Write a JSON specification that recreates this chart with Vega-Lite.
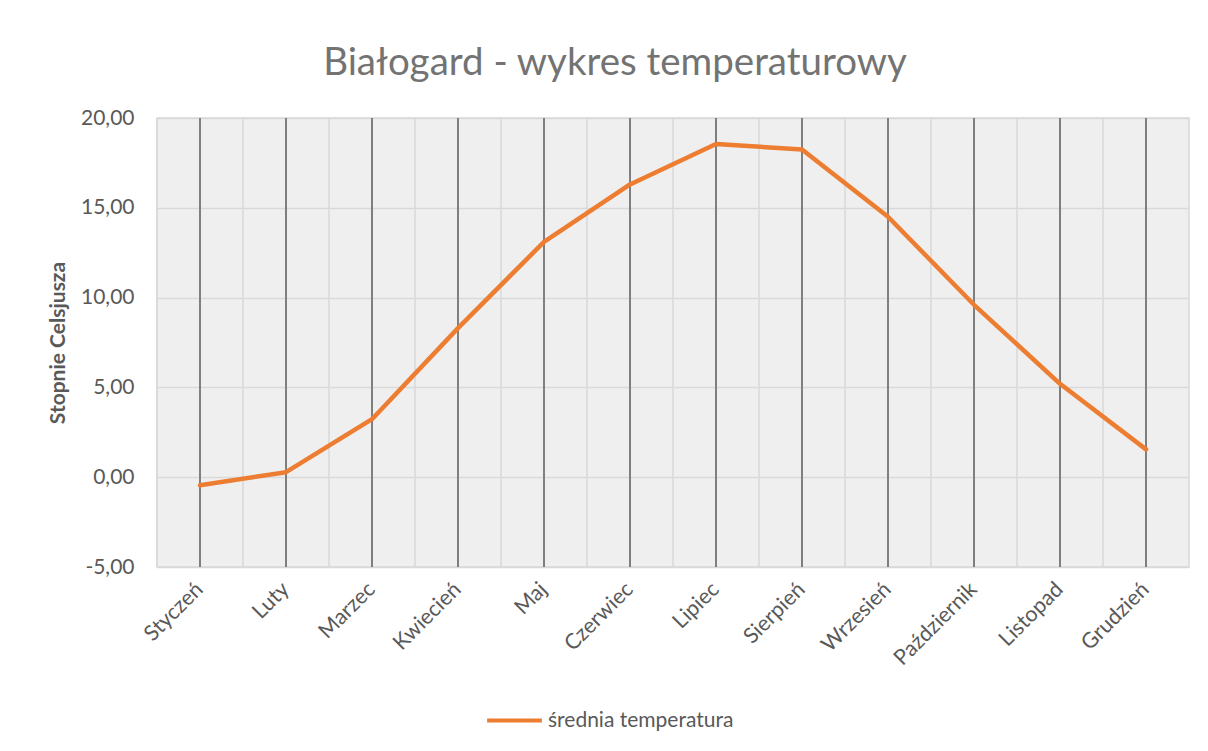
{
  "$schema": "https://vega.github.io/schema/vega-lite/v6.json",
  "width": 1032,
  "height": 449,
  "autosize": {"type": "none"},
  "padding": {"left": 157, "top": 118, "right": 19, "bottom": 184},
  "background": "white",
  "title": {
    "text": "Białogard - wykres temperaturowy",
    "font": "Lato",
    "fontSize": 38.5,
    "fontWeight": "normal",
    "color": "#737373",
    "anchor": "middle",
    "dx": -58,
    "offset": 24
  },
  "config": {
    "font": "Lato",
    "view": {"fill": "#efefef", "stroke": "#d9d9d9", "strokeWidth": 1.5}
  },
  "data": {
    "values": [
      {"miesiac": "Styczeń", "temp": -0.45, "seria": "średnia temperatura"},
      {"miesiac": "Luty", "temp": 0.28, "seria": "średnia temperatura"},
      {"miesiac": "Marzec", "temp": 3.23, "seria": "średnia temperatura"},
      {"miesiac": "Kwiecień", "temp": 8.3, "seria": "średnia temperatura"},
      {"miesiac": "Maj", "temp": 13.1, "seria": "średnia temperatura"},
      {"miesiac": "Czerwiec", "temp": 16.3, "seria": "średnia temperatura"},
      {"miesiac": "Lipiec", "temp": 18.55, "seria": "średnia temperatura"},
      {"miesiac": "Sierpień", "temp": 18.25, "seria": "średnia temperatura"},
      {"miesiac": "Wrzesień", "temp": 14.5, "seria": "średnia temperatura"},
      {"miesiac": "Październik", "temp": 9.6, "seria": "średnia temperatura"},
      {"miesiac": "Listopad", "temp": 5.2, "seria": "średnia temperatura"},
      {"miesiac": "Grudzień", "temp": 1.55, "seria": "średnia temperatura"}
    ]
  },
  "encoding": {
    "x": {
      "field": "miesiac",
      "type": "nominal",
      "sort": null,
      "scale": {"paddingInner": 0, "paddingOuter": 0},
      "axis": {
        "title": null,
        "labelAngle": -45,
        "labelAlign": "right",
        "labelBaseline": "middle",
        "labelFontSize": 21.5,
        "labelColor": "#595959",
        "domain": false,
        "ticks": false,
        "grid": false,
        "labelPadding": 19
      }
    }
  },
  "layer": [
    {
      "mark": {"type": "rule", "color": "#d9d9d9", "strokeWidth": 1.5},
      "encoding": {
        "x": {"field": "miesiac", "type": "nominal", "sort": null, "bandPosition": 0}
      }
    },
    {
      "mark": {"type": "rule", "color": "#7f7f7f", "strokeWidth": 2},
      "encoding": {}
    },
    {
      "mark": {"type": "line", "strokeWidth": 4.5, "strokeCap": "round", "strokeJoin": "round"},
      "encoding": {
        "y": {
          "field": "temp",
          "type": "quantitative",
          "scale": {"domain": [-5, 20], "nice": false, "zero": false},
          "axis": {
            "title": "Stopnie Celsjusza",
            "titleFontSize": 21,
            "titleFontWeight": "bold",
            "titleColor": "#595959",
            "titlePadding": 12,
            "values": [-5, 0, 5, 10, 15, 20],
            "labelExpr": "replace(replace(format(datum.value, '.2f'), '.', ','), '−', '-')",
            "labelFontSize": 21,
            "labelColor": "#595959",
            "labelPadding": 23,
            "domain": false,
            "ticks": false,
            "grid": true,
            "gridColor": "#d9d9d9",
            "gridWidth": 1.5
          }
        },
        "color": {
          "field": "seria",
          "type": "nominal",
          "scale": {"range": ["#ED7D31"]},
          "legend": {
            "orient": "none",
            "legendX": 328,
            "legendY": 573,
            "title": null,
            "labelFontSize": 21,
            "labelColor": "#595959",
            "labelLimit": 0,
            "symbolType": "stroke",
            "symbolStrokeWidth": 4,
            "symbolSize": 3000
          }
        }
      }
    }
  ]
}
